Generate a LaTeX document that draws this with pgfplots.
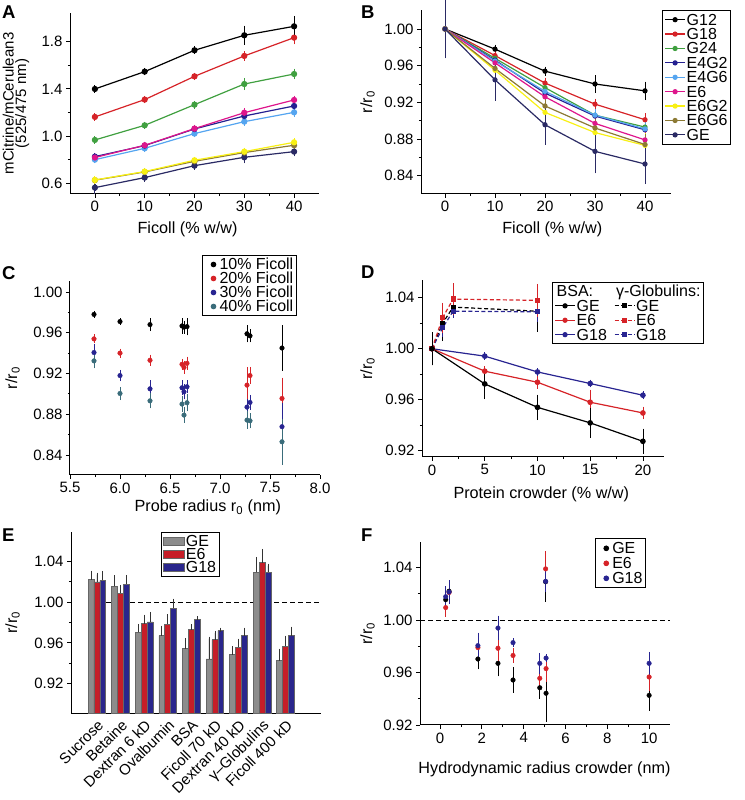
\documentclass[border=0pt]{standalone}
\usepackage{fontspec}
\setmainfont{Liberation Sans}
\usepackage{pgfplots}
\pgfplotsset{compat=1.18}

\definecolor{cRed}{RGB}{214,35,40}
\definecolor{cGreen}{RGB}{64,160,64}
\definecolor{cEfourGtwo}{RGB}{36,32,145}
\definecolor{cEfourGsix}{RGB}{85,165,240}
\definecolor{cEsix}{RGB}{222,22,140}
\definecolor{cEsixGtwo}{RGB}{248,240,20}
\definecolor{cEsixGsix}{RGB}{140,122,52}
\definecolor{cGE}{RGB}{42,42,100}
\definecolor{cTeal}{RGB}{58,108,122}
\definecolor{cNavy}{RGB}{40,36,145}
\definecolor{cGray}{RGB}{140,140,140}
\definecolor{cBarRed}{RGB}{198,30,40}
\definecolor{cBarBlue}{RGB}{42,38,140}

\pgfplotsset{
  panel/.style={
    scale only axis, clip=false,
    axis lines=left,
    axis line style={-, line width=1pt},
    tick align=outside,
    major tick length=4pt, minor tick length=2.2pt,
    tick style={black, line width=0.8pt},
    minor tick num=1,
    tick label style={font=\fontsize{15}{15}\selectfont},
    label style={font=\fontsize{16.2}{14}\selectfont},
    /pgf/number format/assume math mode=true,
    xlabel style={inner sep=0pt, anchor=north},
    ylabel style={inner sep=0pt, anchor=south},
    legend cell align=left,
    legend style={draw=black, line width=1pt, fill=white,
      font=\fontsize{16}{16}\selectfont, inner xsep=2pt, inner ysep=2pt,
      nodes={inner xsep=1pt, inner ysep=1.2pt, text height=11.5pt, text depth=0.5pt}},
  },
  twodec/.style={yticklabel style={/pgf/number format/.cd, fixed, fixed zerofill, precision=2}},
  eb/.style={/pgfplots/error bars/y dir=both, /pgfplots/error bars/y explicit,
    /pgfplots/error bars/error bar style={line width=0.8pt, solid},
    /pgfplots/error bars/error mark options={line width=0.8pt, mark size=#1, solid}},
  eb/.default=2.5pt,
  lineimg/.style={legend image code/.code={\draw[mark repeat=2, mark phase=2, ##1] plot coordinates {(0pt,0pt)(10pt,0pt)(20pt,0pt)};}},
  dotimg/.style={legend image code/.code={\path[draw=none, fill=none] (-9pt,-0.1pt) rectangle (5pt,0.1pt); \draw[##1] plot coordinates {(0pt,0pt)};}},
  rectimg/.style={legend image code/.code={\draw[##1] (0pt,-4pt) rectangle (21pt,4pt);}},
}

\begin{document}
\begin{tikzpicture}
\useasboundingbox (0pt,0pt) rectangle (744pt,800pt);
\tikzset{panellabel/.style={anchor=north west, inner sep=0pt, font=\bfseries\fontsize{18.5}{18.5}\selectfont}}
\node[panellabel] at (2pt,794pt) {A};
\node[panellabel] at (361pt,794pt) {B};
\node[panellabel] at (2pt,534pt) {C};
\node[panellabel] at (361pt,534pt) {D};
\node[panellabel] at (2pt,271pt) {E};
\node[panellabel] at (361pt,271pt) {F};

% ---------------- A
\begin{axis}[panel, at={(70pt,606pt)}, anchor=south west, width=249pt, height=181pt,
  xmin=-5, xmax=45, ymin=0.509, ymax=2.043,
  xtick={0,10,20,30,40}, ytick={0.6,1.0,1.4,1.8},
  yticklabel style={/pgf/number format/.cd, fixed, fixed zerofill, precision=1},
  xlabel={Ficoll (\% w/w)}, ylabel={mCitrine/mCerulean3\\(525/475 nm)},
  xlabel style={at={(axis description cs:0.472,-0.155)}},
  ylabel style={at={(axis description cs:-0.163,0.5)}, align=center, font=\fontsize{15}{12.5}\selectfont}]
\addplot[cGE, line width=1.2pt, mark=*, mark size=2.5pt, eb] coordinates {(0,0.563) +- (0,0.03) (10,0.648) +- (0,0.012) (20,0.749) +- (0,0.012) (30,0.82) +- (0,0.03) (40,0.868) +- (0,0.02)};
\addplot[cEsixGsix, line width=1.2pt, mark=*, mark size=2.5pt, eb] coordinates {(0,0.626) +- (0,0.01) (10,0.696) +- (0,0.01) (20,0.786) +- (0,0.01) (30,0.86) +- (0,0.012) (40,0.922) +- (0,0.012)};
\addplot[cEsixGtwo, line width=1.2pt, mark=*, mark size=2.5pt, eb] coordinates {(0,0.628) +- (0,0.01) (10,0.699) +- (0,0.01) (20,0.795) +- (0,0.01) (30,0.868) +- (0,0.012) (40,0.947) +- (0,0.012)};
\addplot[cEfourGsix, line width=1.2pt, mark=*, mark size=2.5pt, eb] coordinates {(0,0.80) +- (0,0.01) (10,0.896) +- (0,0.01) (20,1.021) +- (0,0.012) (30,1.122) +- (0,0.015) (40,1.201) +- (0,0.015)};
\addplot[cEfourGtwo, line width=1.2pt, mark=*, mark size=2.5pt, eb] coordinates {(0,0.826) +- (0,0.01) (10,0.919) +- (0,0.01) (20,1.060) +- (0,0.012) (30,1.17) +- (0,0.02) (40,1.255) +- (0,0.02)};
\addplot[cEsix, line width=1.2pt, mark=*, mark size=2.5pt, eb] coordinates {(0,0.818) +- (0,0.01) (10,0.922) +- (0,0.01) (20,1.063) +- (0,0.012) (30,1.198) +- (0,0.015) (40,1.306) +- (0,0.015)};
\addplot[cGreen, line width=1.2pt, mark=*, mark size=2.5pt, eb] coordinates {(0,0.967) +- (0,0.012) (10,1.091) +- (0,0.01) (20,1.266) +- (0,0.012) (30,1.441) +- (0,0.03) (40,1.526) +- (0,0.025)};
\addplot[cRed, line width=1.2pt, mark=*, mark size=2.5pt, eb] coordinates {(0,1.162) +- (0,0.012) (10,1.309) +- (0,0.01) (20,1.506) +- (0,0.01) (30,1.679) +- (0,0.02) (40,1.834) +- (0,0.035)};
\addplot[black, line width=1.2pt, mark=*, mark size=2.5pt, eb] coordinates {(0,1.399) +- (0,0.01) (10,1.546) +- (0,0.01) (20,1.727) +- (0,0.012) (30,1.854) +- (0,0.06) (40,1.930) +- (0,0.068)};
\end{axis}

% ---------------- B
\begin{axis}[panel, twodec, at={(421pt,606pt)}, anchor=south west, width=250pt, height=184pt,
  xmin=-4.8, xmax=45.2, ymin=0.820, ymax=1.0207,
  xtick={0,10,20,30,40}, ytick={0.84,0.88,0.92,0.96,1.00},
  xlabel={Ficoll (\% w/w)}, ylabel={r/r\textsubscript{0}},
  xlabel style={at={(axis description cs:0.525,-0.152)}},
  ylabel style={at={(axis description cs:-0.184,0.5)}},
  legend style={at={(0.964,1.0)}, anchor=north west}]
\addplot[black, line width=1.2pt, mark=*, mark size=2pt, eb=2.8pt, lineimg] coordinates {(0,1.00) +- (0,0.004) (10,0.978) +- (0,0.002) (20,0.954) +- (0,0.002) (30,0.940) +- (0,0.0065) (40,0.9325) +- (0,0.007)};
\addlegendentry{G12}
\addplot[cRed, line width=1.2pt, mark=*, mark size=2pt, eb=2.8pt, lineimg] coordinates {(0,1.00) +- (0,0.005) (10,0.971) +- (0,0.003) (20,0.941) +- (0,0.003) (30,0.918) +- (0,0.003) (40,0.901) +- (0,0.004)};
\addlegendentry{G18}
\addplot[cGreen, line width=1.2pt, mark=*, mark size=2pt, eb=2.8pt, lineimg] coordinates {(0,1.00) +- (0,0.006) (10,0.968) +- (0,0.003) (20,0.936) +- (0,0.004) (30,0.906) +- (0,0.004) (40,0.893) +- (0,0.004)};
\addlegendentry{G24}
\addplot[cEfourGtwo, line width=1.2pt, mark=*, mark size=2pt, eb=2.8pt, lineimg] coordinates {(0,1.00) +- (0,0.006) (10,0.966) +- (0,0.003) (20,0.930) +- (0,0.004) (30,0.905) +- (0,0.004) (40,0.890) +- (0,0.005)};
\addlegendentry{E4G2}
\addplot[cEfourGsix, line width=1.2pt, mark=*, mark size=2pt, eb=2.8pt, lineimg] coordinates {(0,1.00) +- (0,0.006) (10,0.965) +- (0,0.003) (20,0.932) +- (0,0.004) (30,0.906) +- (0,0.004) (40,0.891) +- (0,0.005)};
\addlegendentry{E4G6}
\addplot[cEsix, line width=1.2pt, mark=*, mark size=2pt, eb=2.8pt, lineimg] coordinates {(0,1.00) +- (0,0.008) (10,0.963) +- (0,0.004) (20,0.926) +- (0,0.005) (30,0.897) +- (0,0.005) (40,0.879) +- (0,0.006)};
\addlegendentry{E6}
\addplot[cEsixGtwo, line width=1.2pt, mark=*, mark size=2pt, eb=2.8pt, lineimg] coordinates {(0,1.00) +- (0,0.01) (10,0.955) +- (0,0.006) (20,0.909) +- (0,0.008) (30,0.887) +- (0,0.01) (40,0.873) +- (0,0.01)};
\addlegendentry{E6G2}
\addplot[cEsixGsix, line width=1.2pt, mark=*, mark size=2pt, eb=2.8pt, lineimg] coordinates {(0,1.00) +- (0,0.008) (10,0.957) +- (0,0.005) (20,0.916) +- (0,0.006) (30,0.892) +- (0,0.007) (40,0.874) +- (0,0.008)};
\addlegendentry{E6G6}
\addplot[cGE, line width=1.2pt, mark=*, mark size=2pt, eb=2.8pt, lineimg] coordinates {(0,1.00) +- (0,0.029) (10,0.9445) +- (0,0.02) (20,0.8955) +- (0,0.019) (30,0.8665) +- (0,0.021) (40,0.8527) +- (0,0.019)};
\addlegendentry{GE}
\end{axis}

% ---------------- C
\begin{axis}[panel, twodec, at={(70pt,325pt)}, anchor=south west, width=250pt, height=194pt,
  xmin=5.5, xmax=8.0, ymin=0.8204, ymax=1.0108,
  xtick={5.5,6.0,6.5,7.0,7.5,8.0}, ytick={0.84,0.88,0.92,0.96,1.00},
  xticklabel style={/pgf/number format/.cd, fixed, fixed zerofill, precision=1},
  xlabel={Probe radius r\textsubscript{0} (nm)}, ylabel={r/r\textsubscript{0}},
  xlabel style={at={(axis description cs:0.551,-0.129)}},
  ylabel style={at={(axis description cs:-0.2,0.5)}},
  legend style={at={(0.528,1.134)}, anchor=north west,
    nodes={text height=11.3pt, text depth=0.5pt, inner ysep=1.1pt}}]
\addplot[black, only marks, mark=*, mark size=2.3pt, eb=2.5pt, dotimg] coordinates {(5.74,0.978) +- (0,0.001) (6.00,0.971) +- (0,0.001) (6.30,0.968) +- (0,0.004) (6.62,0.9667) +- (0,0.005) (6.64,0.9655) +- (0,0.004) (6.67,0.966) +- (0,0.006) (7.27,0.959) +- (0,0.006) (7.30,0.957) +- (0,0.004) (7.62,0.945) +- (0,0.02)};
\addlegendentry{10\% Ficoll}
\addplot[cRed, only marks, mark=*, mark size=2.3pt, eb=2.5pt, dotimg] coordinates {(5.74,0.954) +- (0,0.002) (6.00,0.940) +- (0,0.002) (6.30,0.933) +- (0,0.003) (6.62,0.929) +- (0,0.003) (6.64,0.926) +- (0,0.004) (6.67,0.930) +- (0,0.004) (7.27,0.9086) +- (0,0.015) (7.30,0.918) +- (0,0.006) (7.62,0.8955) +- (0,0.018)};
\addlegendentry{20\% Ficoll}
\addplot[cNavy, only marks, mark=*, mark size=2.3pt, eb=2.5pt, dotimg] coordinates {(5.74,0.9406) +- (0,0.006) (6.00,0.918) +- (0,0.003) (6.30,0.905) +- (0,0.006) (6.62,0.906) +- (0,0.005) (6.64,0.902) +- (0,0.005) (6.67,0.907) +- (0,0.004) (7.27,0.887) +- (0,0.006) (7.30,0.8916) +- (0,0.005) (7.62,0.8678) +- (0,0.021)};
\addlegendentry{30\% Ficoll}
\addplot[cTeal, only marks, mark=*, mark size=2.3pt, eb=2.5pt, dotimg] coordinates {(5.74,0.9324) +- (0,0.005) (6.00,0.9004) +- (0,0.004) (6.30,0.8932) +- (0,0.005) (6.62,0.890) +- (0,0.005) (6.64,0.8792) +- (0,0.005) (6.67,0.8913) +- (0,0.006) (7.27,0.8743) +- (0,0.006) (7.30,0.8736) +- (0,0.005) (7.62,0.853) +- (0,0.02)};
\addlegendentry{40\% Ficoll}
\end{axis}

% ---------------- D
\begin{axis}[panel, twodec, at={(422pt,343pt)}, anchor=south west, width=242pt, height=177pt,
  xmin=-0.95, xmax=22, ymin=0.915, ymax=1.054,
  xtick={0,5,10,15,20}, ytick={0.92,0.96,1.00,1.04},
  xlabel={Protein crowder (\% w/w)}, ylabel={r/r\textsubscript{0}},
  xlabel style={at={(axis description cs:0.493,-0.166)}},
  ylabel style={at={(axis description cs:-0.194,0.5)}},
  legend columns=2,
  legend style={at={(0.537,0.99)}, anchor=north west,
    /tikz/every even column/.append style={column sep=6pt}}]
\addlegendimage{empty legend}\addlegendentry{\hspace*{-20pt}BSA:}
\addlegendimage{empty legend}\addlegendentry{\hspace*{-20pt}γ-Globulins:}
\addlegendimage{black, line width=1.2pt, mark=*, mark size=2pt, lineimg}\addlegendentry{GE}
\addlegendimage{black, line width=1.2pt, dash pattern=on 4pt off 2.5pt, mark=square*, mark size=2pt, mark options={solid}, lineimg}\addlegendentry{GE}
\addlegendimage{cRed, line width=1.2pt, mark=*, mark size=2pt, lineimg}\addlegendentry{E6}
\addlegendimage{cRed, line width=1.2pt, dash pattern=on 4pt off 2.5pt, mark=square*, mark size=2pt, mark options={solid}, lineimg}\addlegendentry{E6}
\addlegendimage{cNavy, line width=1.2pt, mark=*, mark size=2pt, lineimg}\addlegendentry{G18}
\addlegendimage{cNavy, line width=1.2pt, dash pattern=on 4pt off 2.5pt, mark=square*, mark size=2pt, mark options={solid}, lineimg}\addlegendentry{G18}
\addplot[forget plot, black, line width=1.2pt, dash pattern=on 4pt off 2.5pt, mark=square*, mark size=2pt, mark options={solid}, eb] coordinates {(0,1.00) +- (0,0.011) (1,1.020) +- (0,0.012) (2,1.0327) +- (0,0.003) (10,1.0295) +- (0,0.014)};
\addplot[forget plot, cNavy, line width=1.2pt, dash pattern=on 4pt off 2.5pt, mark=square*, mark size=2pt, mark options={solid}, eb] coordinates {(0,1.00) +- (0,0.001) (1,1.0164) +- (0,0.005) (2,1.0295) +- (0,0.003) (10,1.029) +- (0,0.006)};
\addplot[forget plot, cRed, line width=1.2pt, dash pattern=on 4pt off 2.5pt, mark=square*, mark size=2pt, mark options={solid}, eb] coordinates {(0,1.00) +- (0,0.002) (1,1.0243) +- (0,0.0097) (2,1.039) +- (0,0.0105) (10,1.038) +- (0,0.011)};
\addplot[forget plot, cNavy, line width=1.2pt, mark=*, mark size=2.2pt, eb] coordinates {(0,1.00) +- (0,0.001) (5,0.9942) +- (0,0.001) (10,0.9818) +- (0,0.001) (15,0.9727) +- (0,0.001) (20,0.9635) +- (0,0.001)};
\addplot[forget plot, cRed, line width=1.2pt, mark=*, mark size=2.2pt, eb] coordinates {(0,1.00) +- (0,0.002) (5,0.9824) +- (0,0.002) (10,0.9737) +- (0,0.003) (15,0.958) +- (0,0.008) (20,0.9496) +- (0,0.003)};
\addplot[forget plot, black, line width=1.2pt, mark=*, mark size=2.2pt, eb] coordinates {(0,1.00) +- (0,0.011) (5,0.9724) +- (0,0.01) (10,0.954) +- (0,0.008) (15,0.9418) +- (0,0.01) (20,0.9273) +- (0,0.008)};
\end{axis}

% ---------------- E
\begin{axis}[panel, twodec, clip=true, at={(71pt,87pt)}, anchor=south west, width=250pt, height=181pt,
  xmin=-1.1, xmax=9.5, ymin=0.891, ymax=1.069,
  xtick={0,1,2,3,4,5,6,7,8}, ytick={0.92,0.96,1.00,1.04},
  xtick style={draw=none},
  xticklabels={Sucrose, Betaine, Dextran 6 kD, Ovalbumin, BSA, Ficoll 70 kD, Dextran 40 kD, γ–Globulins, Ficoll 400 kD},
  xticklabel style={rotate=45, anchor=north east, inner sep=1pt},
  ylabel={r/r\textsubscript{0}},
  ylabel style={at={(axis description cs:-0.204,0.5)}},
  legend style={at={(0.359,1.0)}, anchor=north west,
    nodes={text height=11pt, text depth=0.5pt, inner ysep=0.9pt}}]
\addplot[forget plot, black, line width=1pt, dash pattern=on 5pt off 3pt] coordinates {(0.4,1.00) (9.5,1.00)};
\addlegendimage{fill=cGray, draw=black!60, line width=0.6pt, rectimg}\addlegendentry{GE}
\addlegendimage{fill=cBarRed, draw=black!60, line width=0.6pt, rectimg}\addlegendentry{E6}
\addlegendimage{fill=cBarBlue, draw=black!60, line width=0.6pt, rectimg}\addlegendentry{G18}
\addplot[forget plot, ybar, bar width=0.25, fill=cGray, draw=black!60, line width=0.6pt,
  error bars/.cd, y dir=plus, y explicit, error bar style={black!80, line width=0.7pt}, error mark options={black!80, line width=0.7pt, mark size=2pt}]
  coordinates {(-0.25,1.022) +- (0,0.007) (0.75,1.0155) +- (0,0.009) (1.75,0.9703) +- (0,0.0065) (2.75,0.967) +- (0,0.008) (3.75,0.9543) +- (0,0.008) (4.75,0.9442) +- (0,0.020) (5.75,0.9484) +- (0,0.0065) (6.75,1.0292) +- (0,0.0134) (7.75,0.9426) +- (0,0.0098)};
\addplot[forget plot, ybar, bar width=0.25, fill=cBarRed, draw=black!60, line width=0.6pt,
  error bars/.cd, y dir=plus, y explicit, error bar style={black!80, line width=0.7pt}, error mark options={black!80, line width=0.7pt, mark size=2pt}]
  coordinates {(0,1.020) +- (0,0.007) (1,1.009) +- (0,0.006) (2,0.979) +- (0,0.0068) (3,0.9785) +- (0,0.0075) (4,0.973) +- (0,0.0035) (5,0.963) +- (0,0.0069) (6,0.9556) +- (0,0.0065) (7,1.039) +- (0,0.0114) (8,0.9566) +- (0,0.0085)};
\addplot[forget plot, ybar, bar width=0.25, fill=cBarBlue, draw=black!60, line width=0.6pt,
  error bars/.cd, y dir=plus, y explicit, error bar style={black!80, line width=0.7pt}, error mark options={black!80, line width=0.7pt, mark size=2pt}]
  coordinates {(0.25,1.0214) +- (0,0.0075) (1.25,1.0178) +- (0,0.007) (2.25,0.9805) +- (0,0.008) (3.25,0.9939) +- (0,0.0075) (4.25,0.9828) +- (0,0.0013) (5.25,0.972) +- (0,0.001) (6.25,0.967) +- (0,0.006) (7.25,1.0295) +- (0,0.0065) (8.25,0.967) +- (0,0.0069)};
\end{axis}

% ---------------- F
\begin{axis}[panel, twodec, at={(420pt,75pt)}, anchor=south west, width=250pt, height=183pt,
  xmin=-0.96, xmax=11, ymin=0.92, ymax=1.0595,
  xtick={0,2,4,6,8,10}, ytick={0.92,0.96,1.00,1.04},
  xlabel={Hydrodynamic radius crowder (nm)}, ylabel={r/r\textsubscript{0}},
  xlabel style={at={(axis description cs:0.498,-0.2)}},
  ylabel style={at={(axis description cs:-0.18,0.5)}},
  legend style={at={(0.699,1.02)}, anchor=north west,
    nodes={text height=11.5pt, text depth=0.5pt, inner ysep=1.5pt}}]
\addplot[forget plot, black, line width=1pt, dash pattern=on 5pt off 3pt] coordinates {(-0.96,1.00) (11,1.00)};
\addplot[black, only marks, mark=*, mark size=2.3pt, eb=2.5pt, dotimg] coordinates {(0.27,1.0155) +- (0,0.006) (0.43,1.022) +- (0,0.006) (1.81,0.9703) +- (0,0.006) (2.77,0.967) +- (0,0.008) (3.49,0.9543) +- (0,0.008) (4.77,0.9484) +- (0,0.0065) (5.07,0.9442) +- (0,0.020) (5.05,1.0292) +- (0,0.0134) (10.0,0.9426) +- (0,0.0098)};
\addlegendentry{GE}
\addplot[cRed, only marks, mark=*, mark size=2.3pt, eb=2.5pt, dotimg] coordinates {(0.27,1.0095) +- (0,0.005) (0.43,1.021) +- (0,0.007) (1.81,0.979) +- (0,0.007) (2.77,0.9785) +- (0,0.0075) (3.49,0.973) +- (0,0.0035) (4.77,0.9556) +- (0,0.0065) (5.07,0.963) +- (0,0.008) (5.05,1.039) +- (0,0.0114) (10.0,0.9566) +- (0,0.0085)};
\addlegendentry{E6}
\addplot[cNavy, only marks, mark=*, mark size=2.3pt, eb=2.5pt, dotimg] coordinates {(0.27,1.0178) +- (0,0.006) (0.43,1.0214) +- (0,0.007) (1.81,0.9805) +- (0,0.008) (2.77,0.9939) +- (0,0.0075) (3.49,0.9828) +- (0,0.0013) (4.77,0.967) +- (0,0.006) (5.07,0.971) +- (0,0.001) (5.05,1.0295) +- (0,0.0065) (10.0,0.967) +- (0,0.0069)};
\addlegendentry{G18}
\end{axis}
\end{tikzpicture}
\end{document}
